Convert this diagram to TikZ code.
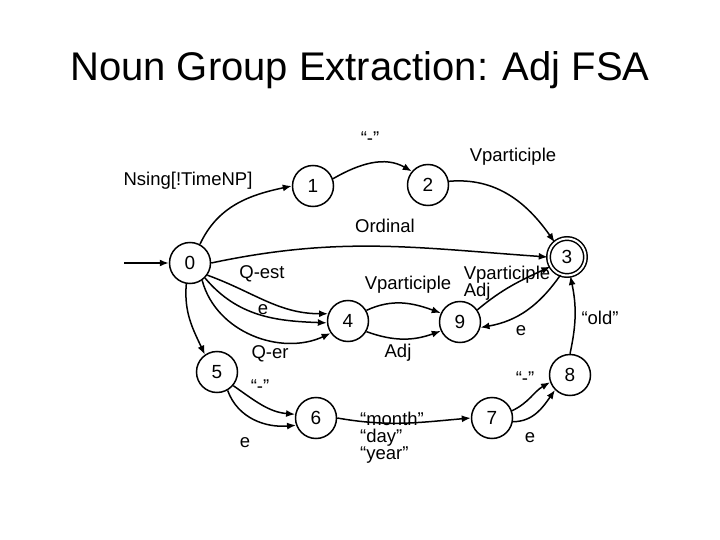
\documentclass[tikz,border=0pt]{standalone}
\usepackage{fontspec}
\setmainfont{Liberation Sans}
\usetikzlibrary{arrows.meta}
\begin{document}
\begin{tikzpicture}[x=1pt,y=-1pt,
  state/.style={circle,draw,line width=1.5pt,minimum size=41pt,inner sep=0pt,font=\fontsize{19}{21}\selectfont},
  accept/.style={state,double,double distance=2pt,minimum size=37pt},
  lbl/.style={font=\fontsize{18.5}{20}\selectfont,inner sep=0pt},
  arr/.style={line width=1.5pt,-{Latex[length=9pt,width=7pt]}}]
\useasboundingbox (0,0) rectangle (720,540);
\node[font=\fontsize{40}{44}\selectfont] (title) at (360,70) {Noun Group Extraction: Adj FSA};

\node[state] (n0) at (190,263) {0};
\node[state] (n1) at (313,186) {1};
\node[state] (n2) at (428,185) {2};
\node[accept] (n3) at (567,257) {3};
\node[state] (n4) at (348,321) {4};
\node[state] (n9) at (460,322) {9};
\node[state] (n5) at (217,372) {5};
\node[state] (n6) at (316,418) {6};
\node[state] (n7) at (492,418) {7};
\node[state] (n8) at (570,375) {8};

\coordinate (start) at (124,263);
\draw[arr] (start) -- (n0);
\draw[arr] (n0.62) to[out=65,in=192] (n1.west);
\draw[arr] (n1.20) to[out=30,in=150] (n2.140);
\draw[arr] (n2.10) to[out=5,in=125] (n3.130);
\draw[arr] (n0.east) to[out=12,in=176] (n3.west);
\draw[arr] (n0.-35) to[out=-20,in=180] (n4.160);
\draw[arr] (n0.-45) to[out=-50,in=178] (n4.185);
\draw[arr] (n0.-55) to[out=-75,in=205] (n4.215);
\draw[arr] (n0.-100) to[out=-95,in=115] (n5.125);
\draw[arr] (n4.30) to[out=25,in=160] (n9.155);
\draw[arr] (n4.-30) to[out=-20,in=200] (n9.205);
\draw[arr] (n9.35) to[out=40,in=205] (n3.210);
\draw[arr] (n3.250) to[out=235,in=10] (n9.-15);
\draw[arr] (n8.north) to[bend right=12] (n3.-80);
\draw[arr] (n5.-40) to[out=-35,in=175] (n6.170);
\draw[arr] (n5.-60) to[out=-70,in=185] (n6.200);
\draw[arr] (n6.east) to[out=-10,in=185] (n7.west);
\draw[arr] (n7.20) to[out=25,in=210] (n8.200);
\draw[arr] (n7.-10) to[out=0,in=235] (n8.225);

\node[lbl] (l01) at (188,181) {Nsing[!TimeNP]};
\node[lbl] (l12) at (370,138) {“-”};
\node[lbl] (l23) at (513,157) {Vparticiple};
\node[lbl] (l03) at (385,226) {Ordinal};
\node[lbl] (lqest) at (262,274) {Q-est};
\node[lbl] (le04) at (263,310) {e};
\node[lbl] (lqer) at (270,354) {Q-er};
\node[lbl] (l49a) at (408,285) {Vparticiple};
\node[lbl] (l49b) at (398,353) {Adj};
\node[lbl,align=left] (l93) at (507,283) {Vparticiple\\[-3pt]Adj};
\node[lbl] (l39) at (521,331) {e};
\node[lbl] (l83) at (600,318) {“old”};
\node[lbl] (l56a) at (260,386) {“-”};
\node[lbl] (l56b) at (245,443) {e};
\node[lbl,align=left] (l67) at (392,438) {“month”\\[-3pt]“day”\\[-3pt]“year”};
\node[lbl] (l78a) at (525,378) {“-”};
\node[lbl] (l78b) at (530,438) {e};
\end{tikzpicture}
\end{document}
